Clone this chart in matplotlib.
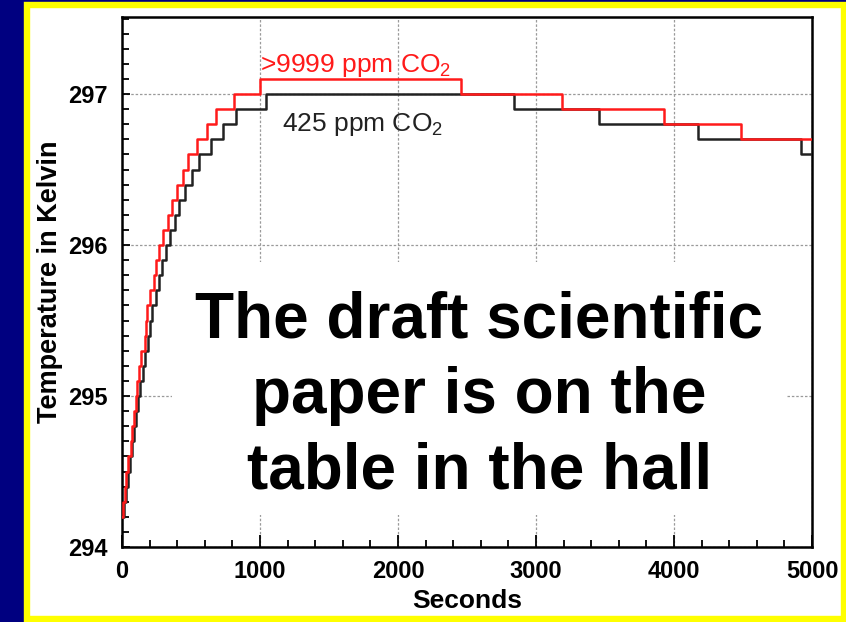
import matplotlib
matplotlib.use('Agg')
import matplotlib.pyplot as plt
from matplotlib.patches import Rectangle
from matplotlib.ticker import MultipleLocator

plt.rcParams['font.family'] = ['Liberation Sans', 'DejaVu Sans']
plt.rcParams['mathtext.fontset'] = 'custom'
plt.rcParams['mathtext.rm'] = 'Liberation Sans'

# step change times (s) and levels (K)
t_high = [0, 8, 20, 32, 45, 68, 76, 86, 98, 110, 125, 140, 167, 175, 183, 205,
          235, 248, 270, 295, 330, 360, 400, 440, 480, 540, 616, 680, 812, 1000,
          2457, 3191, 3928, 4483, 5000]
T_high = [294.2, 294.3, 294.4, 294.5, 294.6, 294.7, 294.8, 294.9, 295.0, 295.1,
          295.2, 295.3, 295.4, 295.5, 295.6, 295.7, 295.8, 295.9, 296.0, 296.1,
          296.2, 296.3, 296.4, 296.5, 296.6, 296.7, 296.8, 296.9, 297.0, 297.1,
          297.0, 296.9, 296.8, 296.7, 296.7]

t_low = [0, 15, 30, 45, 60, 75, 85, 100, 115, 130, 150, 170, 185, 200, 220, 245,
         265, 290, 322, 350, 385, 415, 460, 505, 560, 645, 730, 826, 1043,
         2841, 3459, 4172, 4920, 5000]
T_low = [294.2, 294.3, 294.4, 294.5, 294.6, 294.7, 294.8, 294.9, 295.0, 295.1,
         295.2, 295.3, 295.4, 295.5, 295.6, 295.7, 295.8, 295.9, 296.0, 296.1,
         296.2, 296.3, 296.4, 296.5, 296.6, 296.7, 296.8, 296.9, 297.0,
         296.9, 296.8, 296.7, 296.6, 296.6]

label_high = r'>9999 ppm CO$_2$'
label_low = r'425 ppm CO$_2$'
note = 'The draft scientific\npaper is on the\ntable in the hall'

fig = plt.figure(figsize=(8.46, 6.22), dpi=100)
fig.patch.set_facecolor('#000080')
W, H = 846, 622
frame = Rectangle((26.5 / W, 3 / H), 817 / W, 614 / H,
                  transform=fig.transFigure, facecolor='white',
                  edgecolor='#ffff00', linewidth=4.6, zorder=-10)
fig.patches.append(frame)

ax = fig.add_axes([122 / W, 75 / H, 690 / W, 530 / H])
ax.patch.set_alpha(0)
ax.set_xlim(0, 5000)
ax.set_ylim(294, 297.51)

ax.xaxis.set_major_locator(MultipleLocator(1000))
ax.xaxis.set_minor_locator(MultipleLocator(200))
ax.yaxis.set_major_locator(MultipleLocator(1))
ax.yaxis.set_minor_locator(MultipleLocator(0.1))
ax.grid(True, which='major', color='#9a9a9a', linestyle=(0, (2, 1.5)), linewidth=0.9)

ax.tick_params(axis='both', which='both', direction='in', top=False, right=False,
               width=1.3, labelsize=17)
ax.tick_params(axis='x', which='major', length=9, pad=9)
ax.tick_params(axis='x', which='minor', length=5)
ax.tick_params(axis='y', which='major', length=6, pad=10)
ax.tick_params(axis='y', which='minor', length=5)
for lab in ax.get_xticklabels() + ax.get_yticklabels():
    lab.set_fontweight('bold')
for s in ax.spines.values():
    s.set_linewidth(1.8)

ax.step(t_low, T_low, where='post', color='#222222', linewidth=1.8, zorder=3)
ax.step(t_high, T_high, where='post', color='#ff1a1a', linewidth=1.8, zorder=4)

ax.text(1000, 297.19, label_high, color='#ff1a1a', fontsize=19, va='center', ha='left')
ax.text(1160, 296.8, label_low, color='#222222', fontsize=19, va='center', ha='left')

ax.add_patch(Rectangle((0.0725, 0.06), 0.891, 0.477, transform=ax.transAxes,
                       facecolor='white', edgecolor='none', zorder=2.5))
ax.text(2590, 295.0, note, fontsize=46, fontweight='bold', ha='center',
        va='center', linespacing=1.32, zorder=5)

ax.set_xlabel('Seconds', fontsize=19, fontweight='bold', labelpad=5)
ax.set_ylabel('Temperature in Kelvin', fontsize=19.5, fontweight='bold', labelpad=4)

fig.savefig('out.png', dpi=100, facecolor=fig.get_facecolor())
